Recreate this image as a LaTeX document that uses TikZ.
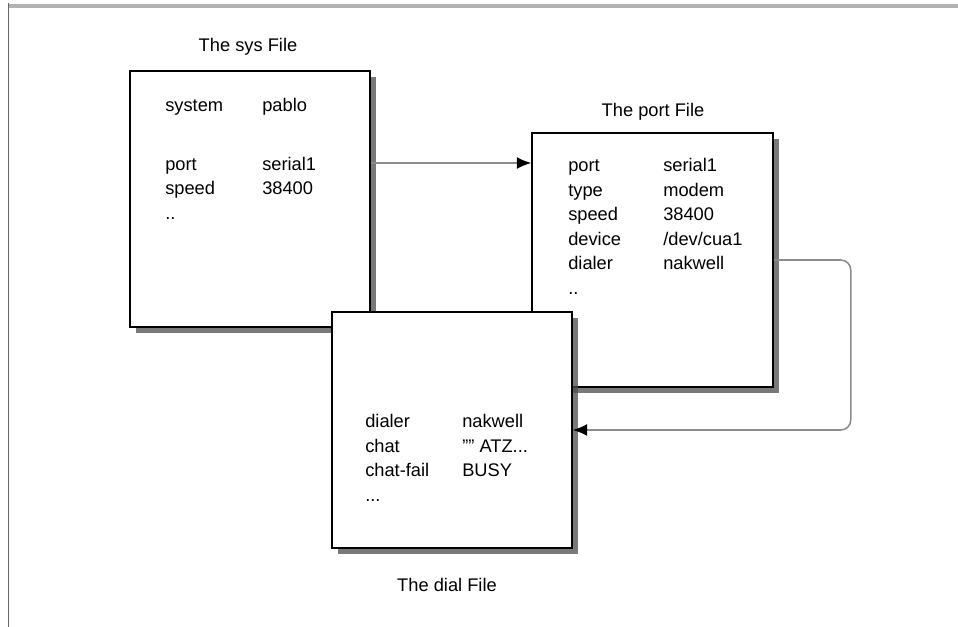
\documentclass[tikz,border=0pt]{standalone}
\usepackage{fontspec}
\setmainfont{Liberation Sans}
\usetikzlibrary{arrows.meta,shadows}

\begin{document}
\begin{tikzpicture}
		\tikzstyle{every node}=[font=\fontsize{13pt}{17.4pt}\selectfont]
		\tikzstyle{filebox}=[draw, line width=1.1pt, fill=white, inner sep=0pt,
		  drop shadow={shadow xshift=0.15cm, shadow yshift=-0.15cm, fill=black!70, opacity=0.75}]
		\tikzstyle{entries}=[anchor=base west, inner sep=0pt]
		\tikzstyle{link}=[draw=black!45, line width=1.1pt, -{Latex[length=0.36cm, width=0.3cm, color=black]}]
		
		\useasboundingbox (0,0) rectangle (23.95,15.675);
		
		\draw[black!30, line width=3pt] (0.2,15.525) -- (23.95,15.525);
		\draw[black!60, line width=1pt] (0.215,15.6) -- (0.215,0);
		
		\node[filebox, minimum width=6cm, minimum height=6.4cm] (sys) at (6.25,10.7) {};
		\node (systitle) at (6.2,14.5) {The sys File};
		\node[entries] (sysrows) at (4.125,12.875) {\begin{tabular}[t]{@{}p{2.425cm}@{}l@{}}
		system & pablo\\[24pt]
		port & serial1\\
		speed & 38400\\
		..
		\end{tabular}};
		
		\node[filebox, minimum width=6.025cm, minimum height=6.35cm] (port) at (16.3125,9.175) {};
		\node (porttitle) at (16.325,12.875) {The port File};
		\node[entries] (portrows) at (14.2,11.375) {\begin{tabular}[t]{@{}p{2.375cm}@{}l@{}}
		port & serial1\\
		type & modem\\
		speed & 38400\\
		device & /dev/cua1\\
		dialer & nakwell\\
		..
		\end{tabular}};
		
		\node[filebox, minimum width=6cm, minimum height=5.9cm] (dial) at (11.3,4.925) {};
		\node (dialtitle) at (11.175,1.05) {The dial File};
		\node[entries] (dialrows) at (9.125,4.975) {\begin{tabular}[t]{@{}p{2.425cm}@{}l@{}}
		dialer & nakwell\\
		chat & "" ATZ...\\
		chat-fail & BUSY\\
		...
		\end{tabular}};
		
		\coordinate (tap) at ([yshift=0.9cm]sys.east);
		\draw[link] (tap) -- (tap -| port.west);
		\draw[link, rounded corners=0.25cm] (port.east) -- ++(1.925,0) |- (dial.east);
		
	\end{tikzpicture}
\end{document}
